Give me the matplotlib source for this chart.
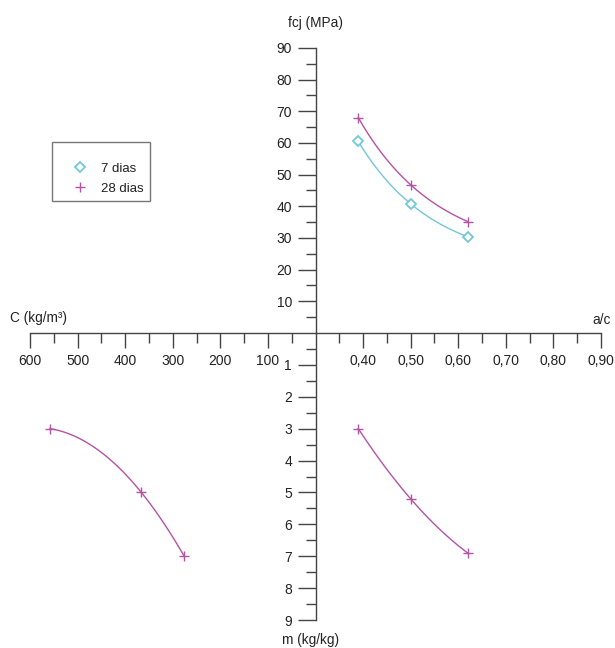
import numpy as np
import matplotlib
matplotlib.use("Agg")
import matplotlib.pyplot as plt
from matplotlib.lines import Line2D
from matplotlib.ticker import FixedLocator, FuncFormatter

plt.rcParams['font.family'] = ['Liberation Sans', 'DejaVu Sans']

# ---- data ----
ac_7 = [0.39, 0.50, 0.62]
fcj_7 = [60.5, 40.8, 30.4]
ac_28 = [0.39, 0.50, 0.62]
fcj_28 = [68.0, 46.8, 35.2]
m_28 = [3.0, 5.2, 6.9]          # a/c vs m (quadrant IV)
C_28 = [558, 366, 276]          # C vs m (quadrant III)
m_C = [3.0, 5.0, 7.0]

ac_ticks = [0.40, 0.50, 0.60, 0.70, 0.80, 0.90]
C_ticks = [100, 200, 300, 400, 500, 600]
fcj_ticks = [10, 20, 30, 40, 50, 60, 70, 80, 90]
m_ticks = [1, 2, 3, 4, 5, 6, 7, 8, 9]

c7 = '#72c8d8'
c28 = '#b452a6'
axc = '#444444'
txt = '#222222'

W, H = 615, 648
fig = plt.figure(figsize=(W / 100, H / 100), dpi=100)

cx, cy = 315.5, 333
xr, xl = 601, 30
yt, yb = 48, 620

def rect(x0, y0, x1, y1):
    return [x0 / W, 1 - y1 / H, (x1 - x0) / W, (y1 - y0) / H]

ax1 = fig.add_axes(rect(cx, yt, xr, cy))
ax2 = fig.add_axes(rect(xl, yt, cx, cy))
ax3 = fig.add_axes(rect(xl, cy, cx, yb))
ax4 = fig.add_axes(rect(cx, cy, xr, yb))

for ax in (ax1, ax2, ax3, ax4):
    ax.patch.set_alpha(0)
    for s in ax.spines.values():
        s.set_visible(False)
    ax.set_xticks([])
    ax.set_yticks([])

ax1.set_xlim(0.30, 0.90)
ax1.set_ylim(0, 90)
ax2.set_xlim(600, 0)
ax2.set_ylim(0, 90)
ax3.set_xlim(600, 0)
ax3.set_ylim(9, 0)
ax4.set_xlim(0.30, 0.90)
ax4.set_ylim(9, 0)

for ax, sp in ((ax1, 'bottom'), (ax1, 'left'), (ax2, 'bottom'), (ax4, 'left')):
    ax.spines[sp].set_visible(True)
    ax.spines[sp].set_color(axc)
    ax.spines[sp].set_linewidth(1.0)

maj_h = dict(length=11, width=1.0, color=axc, labelcolor=txt, labelsize=10, pad=4, direction='out')
min_h = dict(length=7, width=1.0, color=axc, direction='out')
maj_v = dict(length=13, width=1.0, color=axc, labelcolor=txt, labelsize=10, pad=4, direction='out')
min_v = dict(length=7, width=1.0, color=axc, direction='out')

comma = FuncFormatter(lambda v, p: f"{v:.2f}".replace('.', ','))

# a/c axis
ax1.xaxis.set_major_locator(FixedLocator(ac_ticks))
ax1.xaxis.set_major_formatter(comma)
ax1.xaxis.set_minor_locator(FixedLocator([0.35, 0.45, 0.55, 0.65, 0.75, 0.85]))
ax1.tick_params(axis='x', which='major', **maj_h)
ax1.tick_params(axis='x', which='minor', **min_h)
# fcj axis
ax1.yaxis.set_major_locator(FixedLocator(fcj_ticks))
ax1.yaxis.set_minor_locator(FixedLocator([5, 15, 25, 35, 45, 55, 65, 75, 85]))
ax1.tick_params(axis='y', which='major', **maj_v)
ax1.tick_params(axis='y', which='minor', **min_v)
# C axis
ax2.xaxis.set_major_locator(FixedLocator(C_ticks))
ax2.xaxis.set_minor_locator(FixedLocator([50, 150, 250, 350, 450, 550]))
ax2.tick_params(axis='x', which='major', **maj_h)
ax2.tick_params(axis='x', which='minor', **min_h)
# m axis
ax4.yaxis.set_major_locator(FixedLocator(m_ticks))
ax4.yaxis.set_minor_locator(FixedLocator([0.5, 1.5, 2.5, 3.5, 4.5, 5.5, 6.5, 7.5, 8.5]))
ax4.tick_params(axis='y', which='major', **maj_v)
ax4.tick_params(axis='y', which='minor', **min_v)

def smooth(x, y, n=60):
    x = np.asarray(x, float)
    y = np.asarray(y, float)
    c = np.polyfit(x, y, 2)
    xs = np.linspace(x.min(), x.max(), n)
    return xs, np.polyval(c, xs)

mk7 = dict(ls='none', marker='D', ms=5, mfc='white', mec=c7, mew=1.3, clip_on=False)
mk28 = dict(ls='none', marker='+', ms=6.5, mec=c28, mew=1.0, clip_on=False)

# Quadrant I
xs, ys = smooth(ac_7, np.log(fcj_7))
ax1.plot(xs, np.exp(ys), color=c7, lw=1.0, clip_on=False)
ax1.plot(ac_7, fcj_7, **mk7)
xs, ys = smooth(ac_28, np.log(fcj_28))
ax1.plot(xs, np.exp(ys), color=c28, lw=1.0, clip_on=False)
ax1.plot(ac_28, fcj_28, **mk28)

# Quadrant III (C vs m)
xs, ys = smooth(C_28, m_C)
ax3.plot(xs, ys, color=c28, lw=1.0, clip_on=False)
ax3.plot(C_28, m_C, **mk28)

# Quadrant IV (a/c vs m)
xs, ys = smooth(ac_28, m_28)
ax4.plot(xs, ys, color=c28, lw=1.0, clip_on=False)
ax4.plot(ac_28, m_28, **mk28)

# axis titles
fs_t = 9.8
fig.text(cx / W, 1 - 23 / H, 'fcj (MPa)', ha='center', va='center', fontsize=fs_t, color=txt)
fig.text(10 / W, 1 - 318 / H, 'C (kg/m³)', ha='left', va='center', fontsize=fs_t, color=txt)
fig.text(611 / W, 1 - 320 / H, 'a/c', ha='right', va='center', fontsize=fs_t, color=txt)
fig.text(311 / W, 1 - 640 / H, 'm (kg/kg)', ha='center', va='center', fontsize=fs_t, color=txt)

# legend
handles = [
    Line2D([], [], ls='none', marker='D', ms=5, mfc='white', mec=c7, mew=1.3),
    Line2D([], [], ls='none', marker='+', ms=6.5, mec=c28, mew=1.0),
]
leg = fig.legend(handles, ['7 dias', '28 dias'], loc='upper left',
                 bbox_to_anchor=(52 / W, 1 - 142 / H), borderaxespad=0,
                 fancybox=False, frameon=True, fontsize=9.5, handlelength=3.2,
                 handletextpad=0.0, borderpad=0.5, labelspacing=0.55,
                 title=' ', title_fontsize=6)
leg.get_frame().set_edgecolor('#555555')
leg.get_frame().set_linewidth(1.0)
for t in leg.get_texts():
    t.set_color(txt)

fig.savefig('out.png', dpi=100)
